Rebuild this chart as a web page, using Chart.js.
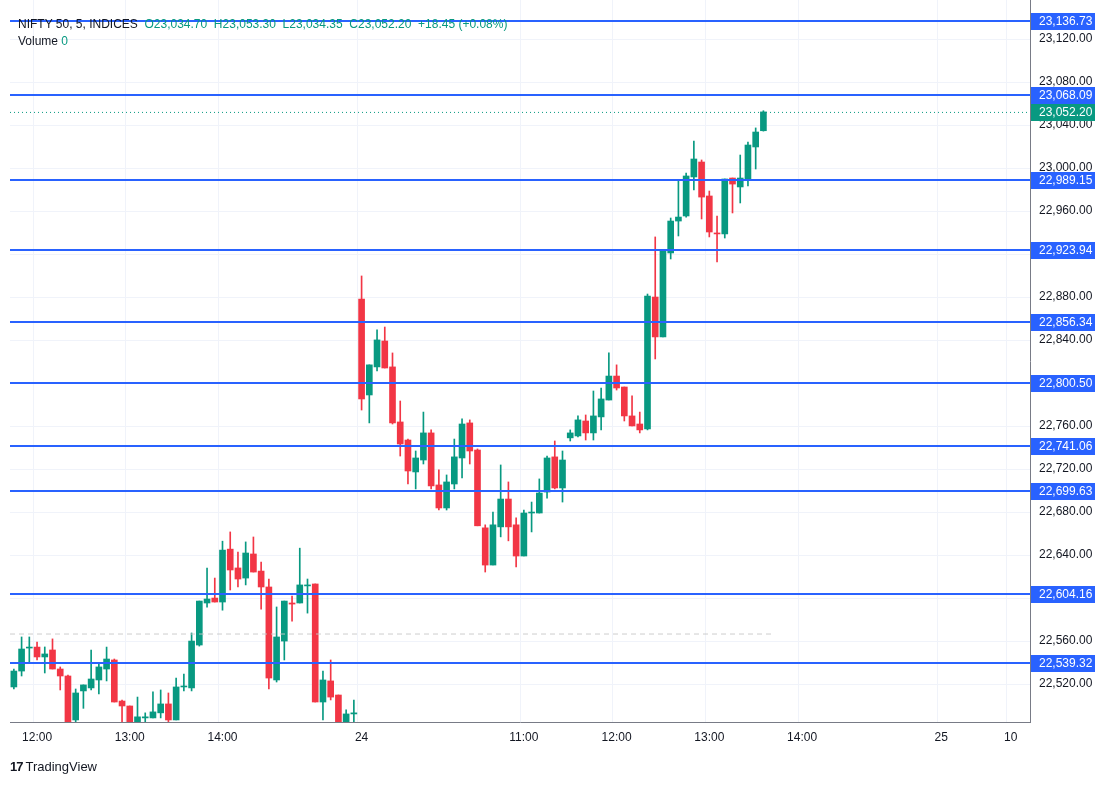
<!DOCTYPE html>
<html><head><meta charset="utf-8">
<script src="https://cdn.jsdelivr.net/npm/chart.js@4"></script>
<style>
html,body{margin:0;padding:0;background:#fff;font-family:"Liberation Sans",Arial,sans-serif;}
#wrap{position:relative;width:1113px;height:785px;}
#hdr{position:absolute;left:18px;top:16px;font-size:12px;color:#131722;line-height:17px;}
#hdr .v{color:#089981}
#logo{position:absolute;left:10px;top:759px;font-size:13px;color:#131722;}
#logo b{font-weight:900;font-size:13px;margin-right:3px;letter-spacing:-1px}
</style></head><body>
<div id="wrap"><canvas id="c" width="1113" height="785"></canvas>
<div id="hdr">NIFTY 50, 5, INDICES&nbsp; <span class="v">O23,034.70 &nbsp;H23,053.30 &nbsp;L23,034.35 &nbsp;C23,052.20 &nbsp;+18.45 (+0.08%)</span><br>Volume <span class="v">0</span></div>
<div id="logo"><b>17</b>TradingView</div>
</div>
<script>
const opens=[22517.3,22532.1,22553.5,22554.4,22545.2,22551.7,22534.0,22527.5,22486.6,22513.6,22516.4,22523.8,22534.0,22542.4,22504.2,22499.6,22481,22488.5,22488.5,22493.2,22501.5,22486.6,22517.3,22516.4,22556.3,22595.4,22600.0,22596.3,22645.5,22628.0,22618.6,22641.0,22625.1,22610.3,22523.8,22560.0,22595.4,22595.4,22611.3,22613.1,22503.3,22522.9,22509.8,22481,22492.2,
22878.1,22788.9,22815.0,22839.1,22815.0,22763.8,22747.0,22717.3,22728.4,22753.6,22705.2,22683.8,22706.1,22730.3,22762.9,22737.7,22665.3,22630.7,22666.2,22692.1,22668.1,22639.1,22679.1,22679.1,22698.6,22731.3,22702.4,22749.0,22750.8,22764.7,22753.6,22768.5,22784.2,22806.5,22796.3,22769.4,22761.9,22757.3,22880.0,22842.9,22921.0,22950.7,22955.4,22991.7,23005.6,22974.0,22939.6,22938.7,22990.7,22982.4,22988.9,23019.6,23034.7];
const highs=[22534.0,22563.8,22563.8,22559.1,22554.5,22562.0,22535.9,22528.4,22515.4,22519.2,22551.7,22539.6,22554.4,22543.3,22505.2,22499.6,22507.9,22493.2,22512.7,22514.5,22511.7,22525.6,22529.3,22567.5,22597.2,22627.9,22618.6,22652.9,22661.5,22642.8,22652.2,22656.8,22633.5,22617.7,22591.7,22597.2,22601.9,22646.4,22617.7,22613.1,22532.1,22542.4,22509.8,22496.0,22505.2,
22899.6,22816.9,22849.4,22852.1,22828.0,22783.3,22747.9,22736.8,22773.0,22756.4,22719.2,22714.5,22747.9,22766.6,22765.7,22738.7,22668.1,22680.0,22723.8,22708.0,22674.6,22681.9,22689.3,22710.8,22732.1,22746.1,22736.8,22756.4,22769.4,22770.3,22792.6,22795.4,22828.0,22816.9,22796.3,22788.0,22773.0,22882.8,22935.9,22922.8,22953.5,22988.0,22995.4,23025.1,23007.5,22978.6,22955.4,22989.8,22990.7,23012.1,23024.2,23037.3,23053.3];
const lows=[22515.4,22527.5,22539.6,22542.4,22530.3,22534.0,22514.5,22477,22484.7,22497.4,22514.5,22510.8,22522.9,22503.3,22482,22477,22477,22484.7,22488.5,22488.5,22484.7,22486.6,22513.6,22513.6,22555.3,22591.6,22596.3,22588.7,22607.5,22610.3,22612.2,22624.2,22589.7,22515.4,22521.9,22542.4,22578.6,22595.4,22586.0,22503.3,22486.6,22505.2,22477,22481,22484.7,
22774.9,22762.9,22811.2,22814.0,22761.9,22732.1,22706.1,22701.5,22724.7,22701.5,22681.9,22681.9,22701.5,22711.8,22724.7,22667.2,22624.2,22630.7,22656.9,22653.2,22628.9,22639.1,22661.5,22679.1,22693.0,22701.5,22689.3,22746.1,22749.9,22747.0,22747.0,22756.4,22784.2,22793.5,22764.7,22760.1,22753.6,22756.4,22822.4,22842.9,22915.4,22936.8,22954.4,22979.6,22952.6,22935.9,22912.6,22934.9,22958.2,22967.5,22983.3,22999.1,23034.35];
const closes=[22532.1,22552.6,22554.4,22545.2,22548.0,22534.0,22527.5,22481,22511.7,22519.2,22524.7,22535.9,22543.3,22503.3,22499.6,22481,22489.5,22489.5,22494.1,22501.5,22486.6,22517.3,22518.2,22560.0,22597.2,22599.1,22596.3,22644.6,22626.1,22617.7,22641.9,22624.2,22610.3,22525.6,22563.8,22597.2,22594.4,22612.2,22612.2,22503.3,22523.8,22507.9,22481,22492.2,22493.2,
22785.2,22816.9,22840.1,22814.0,22762.9,22743.3,22718.2,22730.3,22753.6,22704.3,22683.8,22708.0,22731.3,22761.9,22736.8,22667.2,22630.7,22668.1,22692.1,22666.2,22639.1,22679.1,22680.0,22697.7,22730.3,22702.4,22728.4,22753.6,22765.7,22753.6,22769.4,22785.2,22806.5,22795.4,22769.4,22760.1,22756.4,22881.0,22842.9,22922.8,22950.7,22954.4,22992.6,23008.4,22973.0,22940.5,22938.7,22989.8,22985.1,22990.7,23021.4,23033.5,23052.2];
const tickLabels={3:'12:00',15:'13:00',27:'14:00',45:'24',66:'11:00',78:'12:00',90:'13:00',102:'14:00',120:'25',129:'10'};
const levels=[23136.73,23068.09,22989.15,22923.94,22856.34,22800.50,22741.06,22699.63,22604.16,22539.32];
const yTicks=[23120,23080,23040,23000,22960,22880,22840,22760,22720,22680,22640,22560,22520];
const lastPrice=23052.20;
const prevClose=22567;
const yMin=22484.7,yMax=23156.3;
const N=132;
const labels=Array.from({length:N},(_,i)=>i);
const UP='#089981',DN='#f23645';
const col=opens.map((o,i)=>closes[i]>=o?UP:DN);
const bodies=opens.map((o,i)=>Math.abs(closes[i]-o)<0.8?[o-0.5,o+0.5]:[o,closes[i]]);
const wicks=lows.map((l,i)=>[l,highs[i]]);

const overlay={id:'overlay',
 beforeDatasetsDraw(ch){const {ctx,chartArea:a,scales:{y}}=ch;ctx.save();ctx.strokeStyle='#f0f3fa';ctx.lineWidth=1;
  for(let v=22520;v<=23160;v+=40){const p=Math.round(y.getPixelForValue(v))+0.5;ctx.beginPath();ctx.moveTo(a.left,p);ctx.lineTo(a.right,p);ctx.stroke();}
  ctx.restore();},
 afterDatasetsDraw(ch){const {ctx,chartArea:a,scales:{x,y}}=ch;ctx.save();
  const yp=y.getPixelForValue(prevClose);ctx.setLineDash([5,4]);ctx.lineWidth=1;
  ctx.strokeStyle='rgba(200,200,200,0.9)';ctx.beginPath();ctx.moveTo(a.left,yp+0.5);ctx.lineTo(x.getPixelForValue(98),yp+0.5);ctx.stroke();
  const yl=y.getPixelForValue(lastPrice);ctx.setLineDash([1,3]);ctx.strokeStyle=UP;
  ctx.beginPath();ctx.moveTo(a.left,yl+0.5);ctx.lineTo(a.right,yl+0.5);ctx.stroke();ctx.setLineDash([]);
  ctx.strokeStyle='#2962ff';ctx.lineWidth=2;
  levels.forEach(v=>{const p=Math.round(y.getPixelForValue(v));ctx.beginPath();ctx.moveTo(a.left,p);ctx.lineTo(a.right,p);ctx.stroke();});
  ctx.restore();},
 afterDraw(ch){const {ctx,chartArea:a,scales:{y}}=ch;ctx.save();ctx.font='12px "Liberation Sans",Arial';ctx.textBaseline='middle';
  const box=(v,c)=>{const p=Math.round(y.getPixelForValue(v));ctx.fillStyle=c;ctx.fillRect(a.right+1,p-8,64,17);ctx.fillStyle='#fff';
   ctx.fillText(v.toLocaleString('en-US',{minimumFractionDigits:2,maximumFractionDigits:2}),a.right+9,p+1);};
  levels.forEach(v=>box(v,'#2962ff'));box(lastPrice,UP);ctx.restore();}
};

new Chart(document.getElementById('c'),{
 type:'bar',
 data:{labels,datasets:[
  {data:wicks,backgroundColor:col,barThickness:1,grouped:false,order:2},
  {data:bodies,backgroundColor:col,barThickness:6,grouped:false,order:1}
 ]},
 options:{responsive:false,animation:false,events:[],
  layout:{padding:{left:10,top:0,right:0,bottom:34}},
  plugins:{legend:{display:false},tooltip:{enabled:false}},
  scales:{
   x:{offset:true,grid:{color:c=>tickLabels[c.index]!==undefined?'#f0f3fa':'rgba(0,0,0,0)',drawTicks:false},
      border:{color:'#787b86'},
      ticks:{autoSkip:false,maxRotation:0,padding:8,color:'#131722',font:{size:12,family:'"Liberation Sans",Arial'},callback:(v)=>tickLabels[v]||''},
      afterFit(s){s.height=29;}},
   y:{position:'right',min:yMin,max:yMax,
      afterBuildTicks(s){s.ticks=yTicks.map(v=>({value:v}));},
      grid:{display:false,drawTicks:false},border:{color:'#787b86'},
      ticks:{padding:9,color:'#131722',font:{size:12,family:'"Liberation Sans",Arial'},
       callback:v=>v.toLocaleString('en-US',{minimumFractionDigits:2})},
      afterFit(s){s.width=83;s.paddingTop=0;s.paddingBottom=0;}}
  }},
 plugins:[overlay]
});
</script></body></html>
